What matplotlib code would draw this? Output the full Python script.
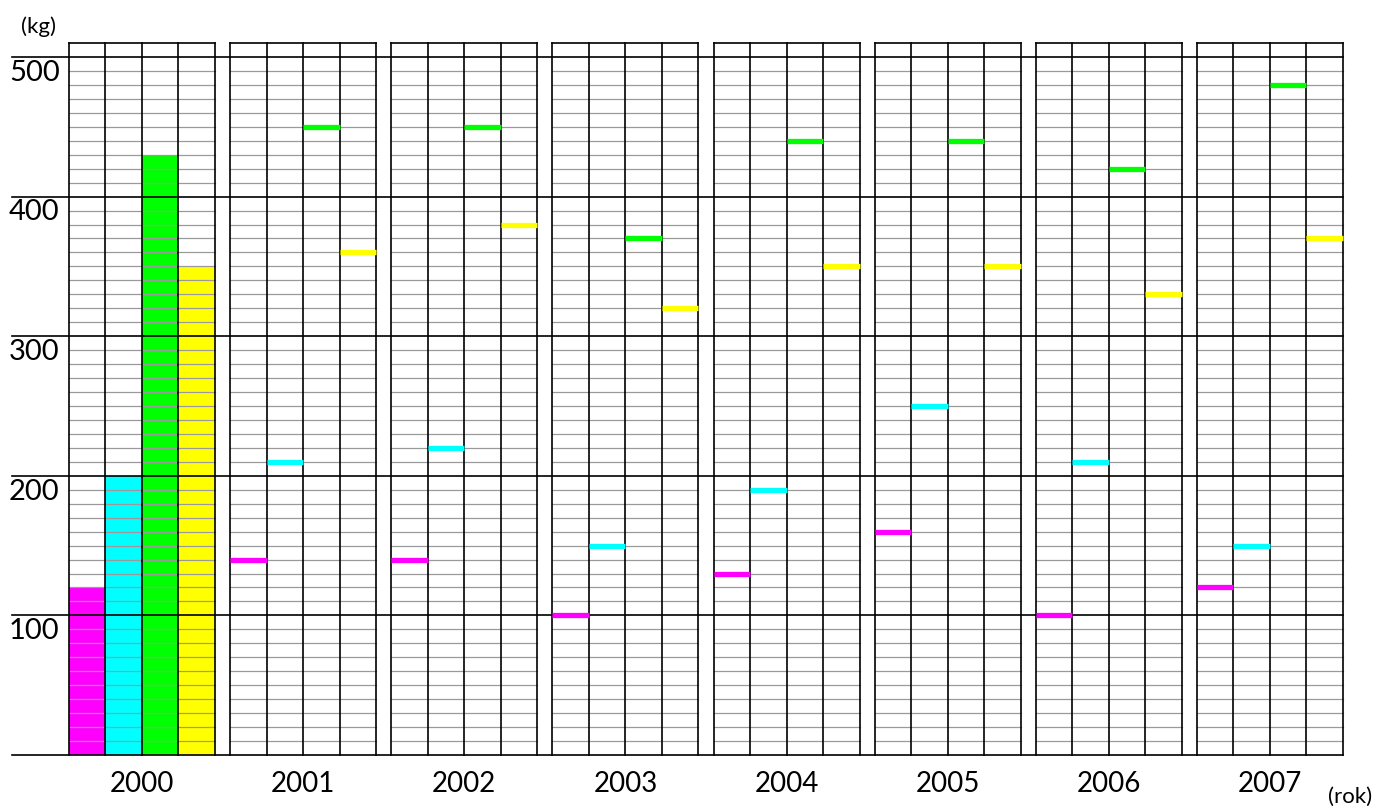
import matplotlib.pyplot as plt
from matplotlib.patches import Rectangle

# data
years = ['2000', '2001', '2002', '2003', '2004', '2005', '2006', '2007']
magenta = [120, 140, 140, 100, 130, 160, 100, 120]
cyan = [200, 210, 220, 150, 190, 250, 210, 150]
green = [430, 450, 450, 370, 440, 440, 420, 480]
yellow = [350, 360, 380, 320, 350, 350, 330, 370]
series = [magenta, cyan, green, yellow]
colors = ['#ff00ff', '#00ffff', '#00ff00', '#ffff00']
major_ticks = [100, 200, 300, 400, 500]
ymax = 510

plt.rcParams['font.family'] = ['Lato', 'DejaVu Sans']

W, H = 1379, 808
fig = plt.figure(figsize=(W / 100, H / 100), dpi=100)
ax = fig.add_axes([0, 0, 1, 1])

# layout in pixels -> data units
col_px = 36.5
x0_px = 69
y0_px = 755
unit_px = 1.396
ax.set_xlim(-x0_px / col_px, (W - x0_px) / col_px)
ax.set_ylim(-(H - y0_px) / unit_px, y0_px / unit_px)
ax.axis('off')

pitch = 161.14 / col_px
ncol = len(series)
left_line = (12 - x0_px) / col_px
right_edge = (len(years) - 1) * pitch + ncol

for g, year in enumerate(years):
    gx = g * pitch
    # first year drawn as bars, others as markers
    for j, s in enumerate(series):
        if g == 0:
            ax.add_patch(Rectangle((gx + j, 0), 1, s[g], fc=colors[j], ec='none', zorder=1))
        else:
            ax.plot([gx + j, gx + j + 1], [s[g], s[g]], color=colors[j], lw=3.8,
                    solid_capstyle='butt', zorder=5)
    # fine grid
    for v in range(10, ymax, 10):
        if v % 100 == 0:
            continue
        ax.plot([gx, gx + ncol], [v, v], color='#9a9a9a', lw=0.9, zorder=2)
    ax.plot([gx, gx + ncol], [ymax, ymax], color='black', lw=1.2, zorder=3)
    for j in range(ncol + 1):
        ax.plot([gx + j, gx + j], [0, ymax], color='black', lw=1.2, zorder=3)
    ax.text(gx + ncol / 2, -21, year, ha='center', va='center', fontsize=20)

for v in [0] + major_ticks:
    ax.plot([left_line, right_edge], [v, v], color='black', lw=1.2, zorder=4)
for v in major_ticks:
    ax.text((9 - x0_px) / col_px, v - 2, str(v), ha='left', va='top', fontsize=21)

ax.text((39 - x0_px) / col_px, 522, '(kg)', ha='center', va='center', fontsize=16)
ax.text((1350 - x0_px) / col_px, -30, '(rok)', ha='center', va='center', fontsize=16)

fig.savefig('out.png', dpi=100)
